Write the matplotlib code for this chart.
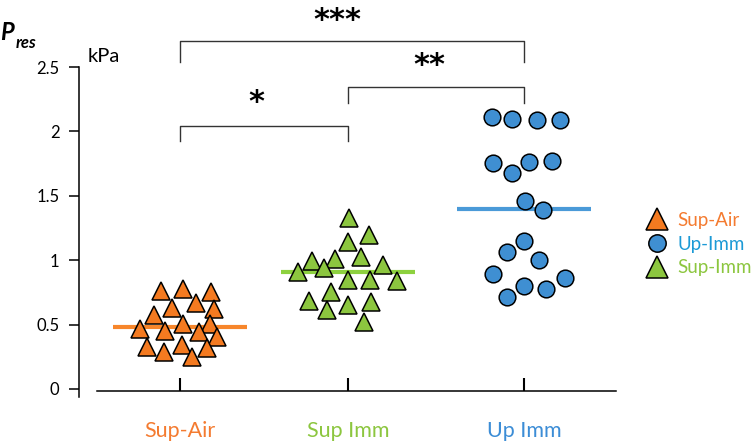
import matplotlib
matplotlib.use('Agg')
import matplotlib.pyplot as plt
from matplotlib.lines import Line2D
import numpy as np

plt.rcParams['font.family'] = ['Lato', 'DejaVu Sans']

# groups
groups = ['Sup-Air', 'Sup Imm', 'Up Imm']
legend_labels = ['Sup-Air', 'Up-Imm', 'Sup-Imm']
xpos = [1.0, 1.977, 3.0]

# point values (kPa) and horizontal jitter (category units)
sup_air_y = [0.763, 0.776, 0.751, 0.629, 0.665, 0.619, 0.575, 0.505, 0.505,
             0.466, 0.453, 0.445, 0.406, 0.324, 0.342, 0.321, 0.285, 0.246]
sup_air_dx = [-0.112, 0.016, 0.180, -0.045, 0.091, 0.199, -0.151, 0.016, 0.174,
              -0.233, -0.087, 0.112, 0.217, -0.194, 0.010, 0.159, -0.091, 0.072]

sup_imm_y = [1.328, 1.196, 1.141, 1.023, 0.994, 1.007, 0.963, 0.911, 0.937,
             0.846, 0.849, 0.839, 0.755, 0.683, 0.678, 0.650, 0.611, 0.520]
sup_imm_dx = [0.006, 0.124, 0.002, 0.076, -0.208, -0.076, 0.202, -0.292, -0.138,
              0.002, 0.128, 0.283, -0.099, -0.225, 0.132, 0.002, -0.124, 0.093]

up_imm_y = [2.114, 2.099, 2.088, 2.088, 1.757, 1.760, 1.770, 1.675, 1.460,
            1.390, 1.149, 1.061, 1.002, 0.891, 0.859, 0.802, 0.776, 0.717]
up_imm_dx = [-0.188, -0.068, 0.074, 0.209, -0.178, 0.029, 0.165, -0.068, 0.006,
             0.109, 0.0, -0.097, 0.087, -0.178, 0.237, 0.0, 0.128, -0.097]

means = [0.484, 0.911, 1.397]

fill_cols = ['#F47A20', '#8CC63F', '#3F8FD2']
line_cols = ['#F7862B', '#8DD13F', '#4A9AD8']
text_cols = ['#F47B30', '#8CC63F', '#3C8DD6']
legend_text_cols = ['#F47B30', '#1C9AD6', '#8CC63F']
markers = ['^', '^', 'o']
msizes = [12.7, 12.7, 12.0]

# significance brackets: (group a, group b, top, drop, star x, star y, label)
brackets = [(0, 1, 2.042, 1.928, 1.446, 2.225, '*'),
            (1, 2, 2.342, 2.220, 2.448, 2.51, '**'),
            (0, 2, 2.704, 2.539, 1.917, 2.865, '***')]

fig = plt.figure(figsize=(7.51, 4.44), dpi=100)
ax = fig.add_axes([0.1052, 0.1059, 0.715, 0.743])

ys = [sup_air_y, sup_imm_y, up_imm_y]
dxs = [sup_air_dx, sup_imm_dx, up_imm_dx]

for i in range(3):
    ax.plot([xpos[i] - 0.39, xpos[i] + 0.39], [means[i], means[i]],
            color=line_cols[i], lw=3.0, solid_capstyle='butt', zorder=2)
    x = xpos[i] + np.array(dxs[i])
    ax.plot(x, ys[i], linestyle='none', marker=markers[i], ms=msizes[i],
            mfc=fill_cols[i], mec='black', mew=1.1, zorder=3)

for a, b, top, drop, sx, sy, lab in brackets:
    ax.plot([xpos[a], xpos[a], xpos[b], xpos[b]], [drop, top, top, drop],
            color='#333333', lw=1.0, clip_on=False)
    ax.text(sx, sy, lab, ha='center', va='center', fontsize=22, fontweight='bold',
            family='DejaVu Sans', clip_on=False)

ax.set_xlim(0.413, 3.535)
ax.set_ylim(-0.062, 2.5)
ax.set_yticks([0, 0.5, 1, 1.5, 2, 2.5])
ax.set_yticklabels(['0', '0.5', '1', '1.5', '2', '2.5'])
ax.set_xticks(xpos)
ax.set_xticklabels(groups)

ax.spines['top'].set_visible(False)
ax.spines['right'].set_visible(False)
ax.spines['left'].set_linewidth(1.1)
ax.spines['bottom'].set_linewidth(1.1)
ax.spines['bottom'].set_position(('data', -0.012))
ax.spines['bottom'].set_bounds(0.517, 3.535)

ax.tick_params(axis='y', direction='out', length=7, width=1.1, pad=7, labelsize=12)
ax.tick_params(axis='x', direction='in', length=9.5, width=1.5, pad=22, labelsize=15.5)
for lbl, c in zip(ax.get_xticklabels(), text_cols):
    lbl.set_color(c)

# axis label
fig.text(0.0, 1 - 33 / 444, 'P', fontsize=17, fontweight='bold', fontstyle='italic',
         va='center', ha='left')
fig.text(16 / 751, 1 - 43 / 444, 'res', fontsize=12, fontweight='bold', fontstyle='italic',
         va='center', ha='left')
fig.text(88 / 751, 1 - 57 / 444, 'kPa', fontsize=14.5, va='center', ha='left')

handles = [Line2D([], [], linestyle='none', marker='^', ms=15.5, mfc=fill_cols[0], mec='black', mew=1.1),
           Line2D([], [], linestyle='none', marker='o', ms=12.5, mfc=fill_cols[2], mec='black', mew=1.1),
           Line2D([], [], linestyle='none', marker='^', ms=15.5, mfc=fill_cols[1], mec='black', mew=1.1)]
fig.legend(handles, legend_labels, loc='center left', bbox_to_anchor=(636 / 751, 1 - 244 / 444),
           frameon=False, fontsize=13.5, labelcolor=legend_text_cols,
           handletextpad=0.5, labelspacing=0.35, handlelength=1.2, borderpad=0)

fig.savefig('out.png', dpi=100)
